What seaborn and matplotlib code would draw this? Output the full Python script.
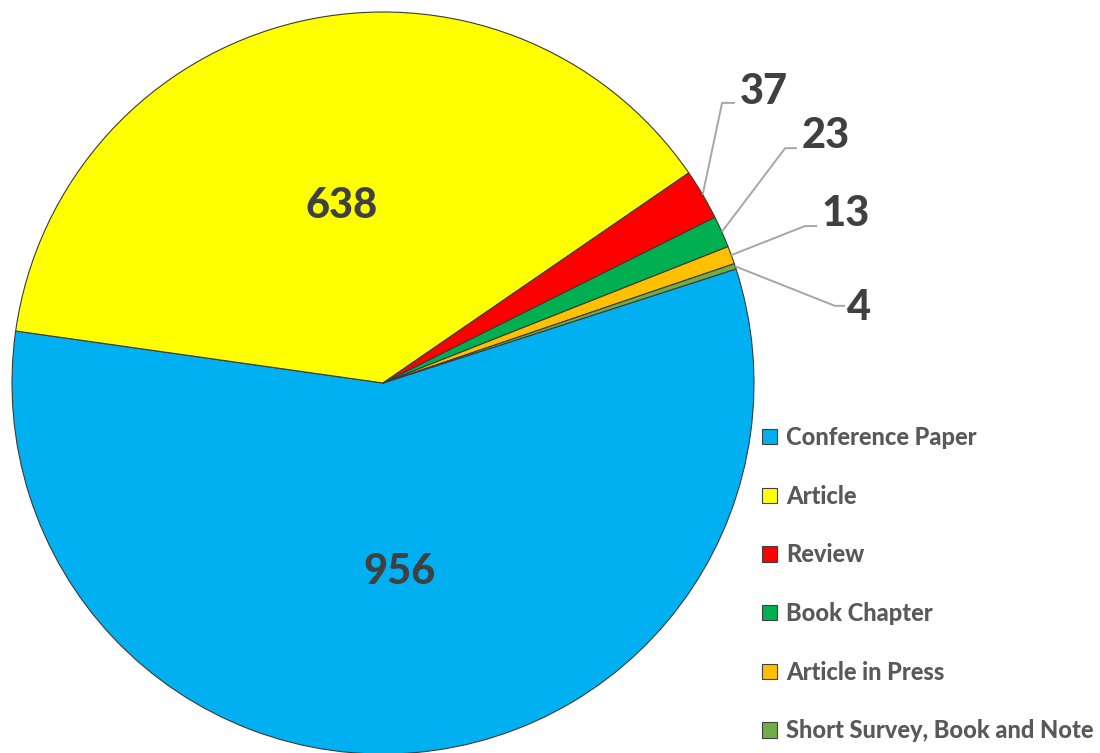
import numpy as np
import matplotlib
matplotlib.use("Agg")
import matplotlib.pyplot as plt
import seaborn as sns

categories = ["Conference Paper", "Article", "Review", "Book Chapter",
              "Article in Press", "Short Survey, Book and Note"]
counts = [956, 638, 37, 23, 13, 4]
colors = ["#00B0F0", "#FFFF00", "#FF0000", "#00B050", "#FFC000", "#70AD47"]

sns.set_theme(style="white")
plt.rcParams["font.family"] = ["Lato", "DejaVu Sans"]

W, H = 1100, 753
fig = plt.figure(figsize=(W / 100, H / 100), dpi=100)
cx, cy, R = 383, 383, 371
ax = fig.add_axes([(cx - R) / W, (H - cy - R) / H, 2 * R / W, 2 * R / H])

wedges, _ = ax.pie(counts, colors=colors, startangle=17.9, counterclock=False,
                   radius=1.0, wedgeprops=dict(edgecolor="#3a3a3a", linewidth=0.8))
ax.set_xlim(-1, 1)
ax.set_ylim(-1, 1)
ax.set_aspect("equal")
ax.axis("off")

txt_col = "#404040"
for w, v in zip(wedges[:2], counts[:2]):
    mid = np.deg2rad((w.theta1 + w.theta2) / 2)
    r = 0.49 if v < 900 else 0.51
    ax.text(r * np.cos(mid), r * np.sin(mid), str(v), ha="center", va="center",
            fontsize=30, fontweight=900, color=txt_col)

leaders = [((0.914, 0.755), (0.949, 0.755), 0.963, 0.785),
           ((1.084, 0.633), (1.116, 0.633), 1.128, 0.665),
           ((1.137, 0.423), (1.170, 0.423), 1.182, 0.455),
           ((1.218, 0.208), (1.245, 0.208), 1.250, 0.203)]
for w, v, (elb, end, tx, ty) in zip(wedges[2:], counts[2:], leaders):
    mid = np.deg2rad((w.theta1 + w.theta2) / 2)
    sx, sy = np.cos(mid), np.sin(mid)
    ax.plot([sx, elb[0], end[0]], [sy, elb[1], end[1]], color="#A6A6A6",
            lw=1.4, clip_on=False, solid_capstyle="butt")
    ax.text(tx, ty, str(v), ha="left", va="center", fontsize=30,
            fontweight=900, color=txt_col, clip_on=False)

handles = [plt.Rectangle((0, 0), 1, 1, facecolor=c, edgecolor="#404040", linewidth=0.8)
           for c in colors]
leg = fig.legend(handles, categories, loc="upper left",
                 bbox_to_anchor=(762 / W, 1 - 426 / H), frameon=False,
                 fontsize=17, labelspacing=1.51, handlelength=0.62,
                 handleheight=0.62, handletextpad=0.4, borderpad=0,
                 borderaxespad=0)
for t in leg.get_texts():
    t.set_color("#595959")
    t.set_fontweight(900)

fig.savefig("out.png", dpi=100)
